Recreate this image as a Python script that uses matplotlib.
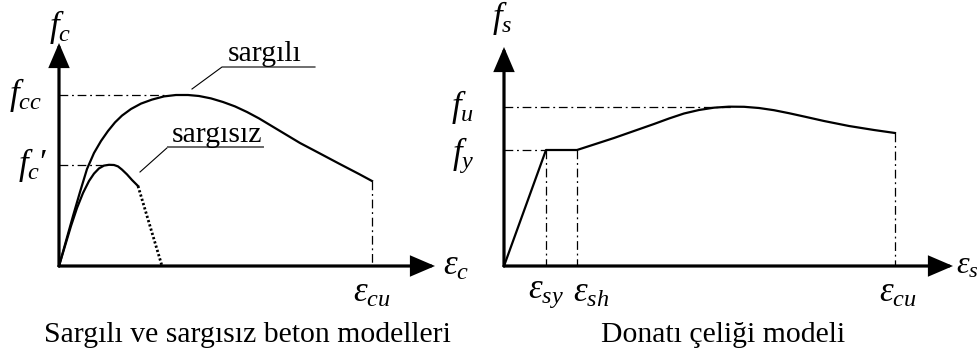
import matplotlib
matplotlib.use("Agg")
import matplotlib.pyplot as plt

plt.rcParams['font.family'] = ['Liberation Serif', 'DejaVu Serif']
plt.rcParams['mathtext.fontset'] = 'custom'
plt.rcParams['mathtext.rm'] = 'Liberation Serif'
plt.rcParams['mathtext.it'] = 'Liberation Serif:italic'
plt.rcParams['mathtext.bf'] = 'Liberation Serif:bold'

# ---------------- Concrete (left) : strain in per mille, stress in MPa
conf_eps = [0, 0.35, 0.70, 1.05, 1.40, 1.75, 2.10, 2.45, 2.80, 3.15, 3.60, 4.10, 4.65,
            5.25, 5.85, 6.45, 7.00, 7.60, 8.20, 8.80, 9.40, 10.00, 10.60, 11.30, 12.05,
            13.00, 14.00, 15.00, 15.65]
conf_sig = [0, 6.25, 12.5, 18.5, 24.25, 28.25, 31.25, 33.75, 35.9, 37.6, 39.25, 40.6, 41.6,
            42.4, 42.75, 42.75, 42.5, 41.9, 41.0, 39.9, 38.5, 36.9, 35.1, 33.0, 30.75,
            28.25, 25.6, 23.0, 21.25]
unconf_eps = [0, 0.30, 0.60, 0.90, 1.20, 1.50, 1.75, 2.00, 2.25, 2.50, 2.75, 2.95,
              3.15, 3.40, 3.65, 3.95]
unconf_sig = [0, 5.0, 10.0, 14.5, 18.25, 21.25, 23.1, 24.4, 25.1, 25.3, 25.25, 24.9,
              24.1, 22.9, 21.5, 20.0]
spall_eps = [3.95, 5.15]
spall_sig = [20.0, 0]
fcc = 42.75
fc = 25.3
eps_cu_c = 15.65

# ---------------- Steel (right) : strain in per mille, stress in MPa
steel_eps = [0, 2.10, 3.65, 4.50, 5.50, 6.50, 7.50, 8.25, 9.00, 9.75, 10.50, 11.25,
             12.00, 12.75, 13.50, 14.25, 15.00, 16.00, 17.25, 18.50, 19.55]
steel_sig = [0, 348, 348, 364.5, 384, 405, 426, 442.5, 457.5, 468, 475, 478,
             477.6, 474, 467.4, 458.4, 448.5, 435, 420, 408, 399]
fy = 348
fu = 478
eps_sy = 2.10
eps_sh = 3.65
eps_su = 19.55
eps_fu = 11.4

fig = plt.figure(figsize=(9.8, 3.54), dpi=100)
axL = fig.add_axes([0, 0, 0.5, 1])
axR = fig.add_axes([0.5, 0, 0.5, 1])
axL.set_xlim(-2.95, 21.55); axL.set_ylim(-22, 66.5)
axR.set_xlim(-0.7, 23.8); axR.set_ylim(-264, 798)
for ax in (axL, axR):
    ax.axis('off')

dashdot = (0, (7, 3, 1.5, 3))
CURVE_LW = 1.6
FS_MATH = 25
FS_CAP = 21.4

def axis_arrows(ax, xtip, ytip):
    kw = dict(arrowstyle='-|>,head_length=0.7,head_width=0.3', lw=2.3, color='k',
              shrinkA=0, shrinkB=0, mutation_scale=20, joinstyle='miter')
    ax.annotate('', xy=(xtip, 0), xytext=(0, 0), arrowprops=kw)
    ax.annotate('', xy=(0, ytip), xytext=(0, 0), arrowprops=kw)

# ---- left panel
axis_arrows(axL, 18.8, 55.75)
axL.plot([0, 5.4], [fcc, fcc], color='k', lw=0.9, ls=dashdot)
axL.plot([0, 2.2], [fc, fc], color='k', lw=0.9, ls=dashdot)
axL.plot([eps_cu_c, eps_cu_c], [conf_sig[-1], 0], color='k', lw=0.9, ls=dashdot)
axL.plot(conf_eps, conf_sig, color='k', lw=CURVE_LW, solid_joinstyle='round')
axL.plot(unconf_eps, unconf_sig, color='k', lw=CURVE_LW, solid_joinstyle='round')
axL.plot(spall_eps, spall_sig, color='k', lw=2.0, ls=(0, (0.8, 0.8)))
# leaders
axL.plot([6.65, 8.15, 12.8], [44.25, 49.75, 49.75], color='k', lw=0.8)
axL.plot([4.05, 5.45], [23.5, 29.75], color='k', lw=0.8)
axL.plot([5.45, 10.2], [29.75, 29.75], color='#666666', lw=1.4)
axL.text(10.3, 51.3, 'sargılı', fontsize=FS_CAP, ha='center', va='baseline')
axL.text(7.9, 31.0, 'sargısız', fontsize=FS_CAP, ha='center', va='baseline')
# labels
axL.text(0.05, 57.5, r'$f_c$', fontsize=FS_MATH, ha='center', va='baseline')
axL.text(-0.85, fcc, r'$f_{cc}$', fontsize=FS_MATH, ha='right', va='center')
axL.text(-0.6, fc, r"$f_c\prime$", fontsize=FS_MATH, ha='right', va='center')
axL.text(19.2, 0, r'$\varepsilon_c$', fontsize=FS_MATH, ha='left', va='center')
axL.text(eps_cu_c, -6.8, r'$\varepsilon_{cu}$', fontsize=FS_MATH, ha='center', va='center')
axL.text(9.4, -17.3, 'Sargılı ve sargısız beton modelleri', fontsize=FS_CAP,
         ha='center', va='center')

# ---- right panel
axis_arrows(axR, 22.45, 657)
axR.plot([0, eps_fu], [fu, fu], color='k', lw=0.9, ls=dashdot)
axR.plot([0, eps_sy], [fy, fy], color='k', lw=0.9, ls=dashdot)
for e, s in ((eps_sy, fy), (eps_sh, fy), (eps_su, steel_sig[-1])):
    axR.plot([e, e], [s, 0], color='k', lw=0.9, ls=dashdot)
axR.plot(steel_eps, steel_sig, color='k', lw=CURVE_LW, solid_joinstyle='round')
axR.text(-0.1, 717, r'$f_s$', fontsize=FS_MATH, ha='center', va='baseline')
axR.text(-1.5, fu, r'$f_u$', fontsize=FS_MATH, ha='right', va='center')
axR.text(-1.5, fy - 15, r'$f_y$', fontsize=FS_MATH, ha='right', va='center')
axR.text(22.6, 0, r'$\varepsilon_s$', fontsize=23, ha='left', va='center')
axR.text(eps_sy, -81, r'$\varepsilon_{sy}$', fontsize=FS_MATH, ha='center', va='center')
axR.text(eps_sh - 0.2, -81, r'$\varepsilon_{sh}$', fontsize=FS_MATH, ha='left', va='center')
axR.text(eps_su + 0.15, -81, r'$\varepsilon_{cu}$', fontsize=FS_MATH, ha='center', va='center')
axR.text(10.95, -206, 'Donatı çeliği modeli', fontsize=FS_CAP, ha='center', va='center')

fig.savefig('out.png', dpi=100, facecolor='white')
